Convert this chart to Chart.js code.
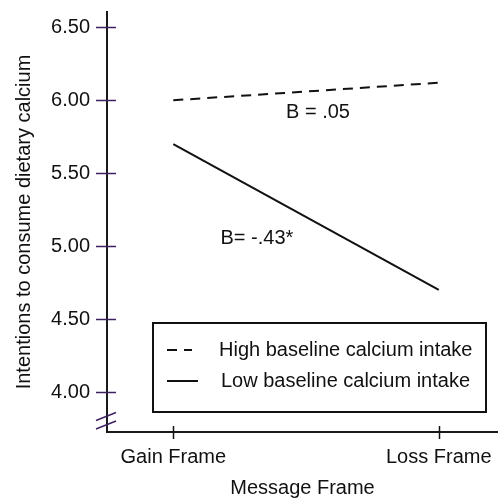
<!DOCTYPE html>
<html>
<head>
<meta charset="utf-8">
<script src="https://cdn.jsdelivr.net/npm/chart.js@4/dist/chart.umd.min.js"></script>
<style>
	html, body { margin: 0; padding: 0; background: #ffffff; }
	#wrap { width: 498px; height: 498px; }
</style>
</head>
<body>
<div id="wrap"><canvas id="frameChart" width="498" height="498"></canvas></div>
<script>
// Message frame x baseline calcium intake
const categories = ["Gain Frame", "Loss Frame"];
const highBaseline = [6.0, 6.12];
const lowBaseline = [5.7, 4.7];
const yTickValues = [4.0, 4.5, 5.0, 5.5, 6.0, 6.5];
const yTickLabels = ["4.00", "4.50", "5.00", "5.50", "6.00", "6.50"];
const seriesLabels = ["High baseline calcium intake", "Low baseline calcium intake"];
const slopeNotes = ["B = .05", "B= -.43*"];

const FONT = "'Liberation Sans', Arial, Helvetica, sans-serif";
const FSIZE = 20;
const ink = "#111111";
const tickPurple = "#3b2160";

// extra drawing: tick marks, axis break, slope notes, legend box
const extrasPlugin = {
	id: "extras",
	afterDraw(chart) {
		const ctx = chart.ctx;
		const x = chart.scales.x;
		const y = chart.scales.y;
		const area = chart.chartArea;
		ctx.save();

		// y tick marks crossing the axis
		ctx.strokeStyle = tickPurple;
		ctx.lineWidth = 1.5;
		yTickValues.forEach((v) => {
			const py = Math.round(y.getPixelForValue(v)) + 0.5;
			ctx.beginPath();
			ctx.moveTo(area.left - 11, py);
			ctx.lineTo(area.left + 9, py);
			ctx.stroke();
		});

		// axis break marks
		[[420.5, 412.5], [429, 421]].forEach(([y1, y2]) => {
			ctx.beginPath();
			ctx.moveTo(area.left - 11, y1);
			ctx.lineTo(area.left + 9, y2);
			ctx.stroke();
		});

		// x tick marks
		ctx.strokeStyle = ink;
		ctx.lineWidth = 1.5;
		categories.forEach((c, i) => {
			const px = Math.round(x.getPixelForValue(i)) + 0.5;
			ctx.beginPath();
			ctx.moveTo(px, area.bottom - 6);
			ctx.lineTo(px, area.bottom + 7);
			ctx.stroke();
		});

		// slope notes
		ctx.fillStyle = ink;
		ctx.font = FSIZE + "px " + FONT;
		ctx.textAlign = "center";
		ctx.textBaseline = "middle";
		ctx.fillText(slopeNotes[0], x.getPixelForValue(0.545), y.getPixelForValue(5.915));
		ctx.fillText(slopeNotes[1], x.getPixelForValue(0.315), y.getPixelForValue(5.055));

		// legend
		const lx = 153, ly = 323, lw = 333, lh = 89;
		ctx.strokeStyle = ink;
		ctx.lineWidth = 2;
		ctx.strokeRect(lx, ly, lw, lh);
		ctx.textAlign = "left";
		chart.data.datasets.forEach((ds, i) => {
			const rowY = ly + 27 + i * 31;
			ctx.setLineDash(ds.borderDash || []);
			ctx.lineWidth = 2;
			ctx.beginPath();
			ctx.moveTo(lx + 14, rowY);
			ctx.lineTo(lx + (ds.borderDash ? 39 : 45), rowY);
			ctx.stroke();
			ctx.setLineDash([]);
			ctx.fillText(ds.label, lx + 66 + i * 2, rowY);
		});

		ctx.restore();
	},
};

const toPoints = (vals) => vals.map((v, i) => ({ x: i, y: v }));

// drop the label overflow padding so the plot area is fixed
function noPad(scale) {
	scale.paddingTop = 0;
	scale.paddingBottom = 0;
	scale.paddingLeft = 0;
	scale.paddingRight = 0;
}

new Chart(document.getElementById("frameChart"), {
	type: "line",
	data: {
		datasets: [
			{
				label: seriesLabels[0],
				data: toPoints(highBaseline),
				borderColor: ink,
				borderWidth: 2,
				borderDash: [10, 7],
				pointRadius: 0,
				fill: false,
			},
			{
				label: seriesLabels[1],
				data: toPoints(lowBaseline),
				borderColor: ink,
				borderWidth: 2,
				pointRadius: 0,
				fill: false,
			},
		],
	},
	options: {
		responsive: false,
		animation: false,
		layout: { padding: { top: 12, right: 0, left: 0, bottom: 0 } },
		plugins: {
			legend: { display: false },
			tooltip: { enabled: false },
		},
		scales: {
			x: {
				type: "linear",
				min: -0.2497,
				max: 1.223,
				grid: { display: false, drawTicks: false },
				border: { display: true, color: "#1a1a1a", width: 2 },
				afterBuildTicks: (scale) => {
					scale.ticks = categories.map((c, i) => ({ value: i }));
				},
				afterFit: (scale) => {
					scale.height = 66;
					noPad(scale);
				},
				ticks: {
					padding: 13,
					maxRotation: 0,
					autoSkip: false,
					color: ink,
					font: { size: FSIZE, family: FONT },
					callback: (v) => categories[v],
				},
				title: {
					display: true,
					text: "Message Frame",
					color: ink,
					font: { size: FSIZE, family: FONT, lineHeight: 1 },
					padding: { top: 0, bottom: 0 },
				},
			},
			y: {
				min: 3.726,
				max: 6.605,
				grid: { display: false, drawTicks: false },
				border: { display: true, color: "#1a1a1a", width: 2 },
				afterBuildTicks: (scale) => {
					scale.ticks = yTickValues.map((v) => ({ value: v }));
				},
				afterFit: (scale) => {
					scale.width = 107;
					noPad(scale);
				},
				ticks: {
					padding: 17,
					color: ink,
					font: { size: FSIZE, family: FONT },
					callback: (v) => yTickLabels[yTickValues.indexOf(v)],
				},
				title: {
					display: true,
					text: "Intentions to consume dietary calcium",
					color: ink,
					font: { size: FSIZE, family: FONT },
					padding: { top: 12, bottom: 0 },
				},
			},
		},
	},
	plugins: [extrasPlugin],
});
</script>
</body>
</html>
